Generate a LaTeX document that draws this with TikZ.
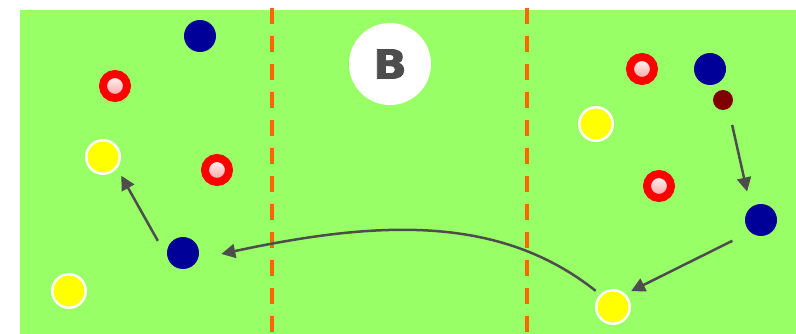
\documentclass[tikz,border=0pt]{standalone}
\usepackage{fontspec}
\usetikzlibrary{arrows.meta}
\newfontfamily\zonefont[FakeBold=2]{DejaVu Sans Bold}
\definecolor{pitch}{HTML}{99FF66}
\definecolor{navykit}{HTML}{000099}
\definecolor{redkit}{HTML}{FF0000}
\definecolor{pinkring}{HTML}{FF9A9A}
\definecolor{yellowkit}{HTML}{FFFF00}
\definecolor{ballred}{HTML}{800000}
\definecolor{passgray}{HTML}{4D4D4D}
\definecolor{zoneorange}{HTML}{FF6600}

\begin{document}
\begin{tikzpicture}[
    x=1pt, y=-1pt,
    player/.style={circle, inner sep=0pt, outer sep=0pt},
    blueplayer/.style={player, fill=navykit, minimum size=32pt},
    redplayer/.style={player, draw=redkit, line width=8pt, minimum size=24pt,
                      top color=white, bottom color=pinkring},
    yellowplayer/.style={player, draw=white, line width=2.5pt, fill=yellowkit,
                         minimum size=33.5pt},
    ballnode/.style={player, fill=ballred, minimum size=20pt},
    pass/.style={passgray, line width=2.5pt, -{Triangle[length=14pt, width=14pt]}},
    zone/.style={zoneorange, line width=3.5pt, dash pattern=on 16pt off 12pt},
  ]
  \useasboundingbox (0,0) rectangle (796,334);

  % ---- pitch and zones ----
  \fill[pitch] (20,10) rectangle (796,334);
  \draw[zone] (272,8) -- (272,334);
  \draw[zone] (527,8) -- (527,334);
  \node[circle, fill=white, minimum size=82pt, inner sep=0pt, text=passgray,
        font={\zonefont\fontsize{40}{40}\selectfont}] (zoneb) at (390,64)
    {\scalebox{1.1}[1]{B}};

  % ---- players ----
  \foreach \n/\x/\y in {1/200/36, 2/183/253, 3/710/69, 4/761/220}
    \node[blueplayer] (blu\n) at (\x,\y) {};
  \foreach \n/\x/\y in {1/115/86, 2/217/170, 3/642/69, 4/659/186}
    \node[redplayer] (red\n) at (\x,\y) {};
  \foreach \n/\x/\y in {1/103/157, 2/69/291, 3/596/124, 4/613/307}
    \node[yellowplayer] (yel\n) at (\x,\y) {};
  \node[ballnode] (ball) at (723,100) {};

  % ---- passes ----
  \draw[pass, shorten <=17pt, shorten >=16.6pt] (ball.-57) -- (blu4.130);
  \draw[pass, shorten <=20pt, shorten >=7.7pt] (blu4.228) -- (yel4.48);
  \draw[pass, shorten <=7pt, shorten >=24pt]
    (yel4.135) .. controls (500,215) and (380,220) .. (blu2.-22);
  \draw[pass, shorten <=22pt, shorten >=10pt] (blu2.206) -- (yel1.-37);
\end{tikzpicture}
\end{document}
